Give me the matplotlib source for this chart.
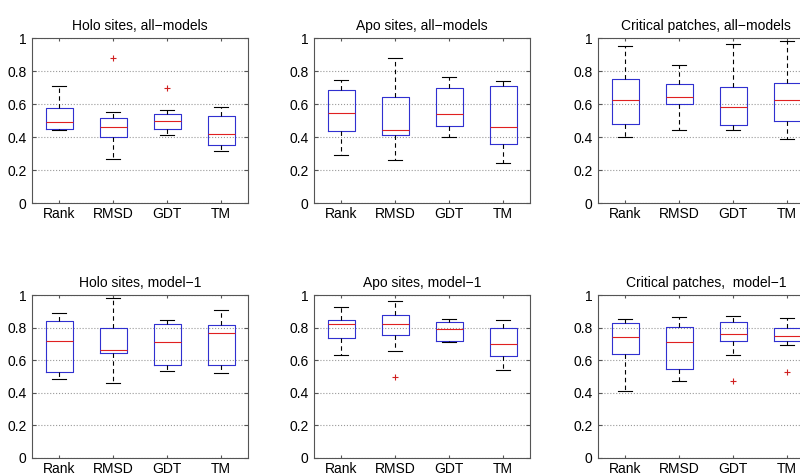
import matplotlib
matplotlib.use("Agg")
import matplotlib.pyplot as plt

plt.rcParams['font.family'] = ['Liberation Sans', 'DejaVu Sans']

labels = ["Rank", "RMSD", "GDT", "TM"]

titles = [
    "Holo sites, all\u2212models",
    "Apo sites, all\u2212models",
    "Critical patches, all\u2212models",
    "Holo sites, model\u22121",
    "Apo sites, model\u22121",
    "Critical patches,  model\u22121",
]

# per panel: whisker low, q1, median, q3, whisker high, outliers (one list per method)
holo_all_lo = [0.44, 0.27, 0.41, 0.315]
holo_all_q1 = [0.45, 0.40, 0.45, 0.355]
holo_all_med = [0.49, 0.46, 0.50, 0.42]
holo_all_q3 = [0.575, 0.515, 0.54, 0.53]
holo_all_hi = [0.71, 0.555, 0.565, 0.58]
holo_all_out = [[], [0.88], [0.70], []]

apo_all_lo = [0.29, 0.26, 0.40, 0.24]
apo_all_q1 = [0.435, 0.41, 0.47, 0.36]
apo_all_med = [0.545, 0.445, 0.54, 0.46]
apo_all_q3 = [0.685, 0.645, 0.70, 0.71]
apo_all_hi = [0.745, 0.88, 0.765, 0.74]
apo_all_out = [[], [], [], []]

crit_all_lo = [0.40, 0.44, 0.445, 0.39]
crit_all_q1 = [0.48, 0.60, 0.475, 0.50]
crit_all_med = [0.625, 0.645, 0.585, 0.625]
crit_all_q3 = [0.75, 0.72, 0.705, 0.73]
crit_all_hi = [0.955, 0.84, 0.965, 0.985]
crit_all_out = [[], [], [], []]

holo_m1_lo = [0.485, 0.46, 0.535, 0.52]
holo_m1_q1 = [0.53, 0.645, 0.57, 0.57]
holo_m1_med = [0.72, 0.66, 0.715, 0.77]
holo_m1_q3 = [0.84, 0.80, 0.825, 0.815]
holo_m1_hi = [0.89, 0.98, 0.85, 0.91]
holo_m1_out = [[], [], [], []]

apo_m1_lo = [0.63, 0.655, 0.715, 0.54]
apo_m1_q1 = [0.735, 0.755, 0.72, 0.625]
apo_m1_med = [0.825, 0.82, 0.79, 0.70]
apo_m1_q3 = [0.85, 0.88, 0.835, 0.80]
apo_m1_hi = [0.925, 0.965, 0.855, 0.845]
apo_m1_out = [[], [0.50], [], []]

crit_m1_lo = [0.41, 0.475, 0.635, 0.695]
crit_m1_q1 = [0.64, 0.545, 0.72, 0.72]
crit_m1_med = [0.74, 0.715, 0.76, 0.75]
crit_m1_q3 = [0.83, 0.805, 0.835, 0.80]
crit_m1_hi = [0.855, 0.865, 0.87, 0.86]
crit_m1_out = [[], [], [0.475], [0.53]]

panels = [
    (holo_all_lo, holo_all_q1, holo_all_med, holo_all_q3, holo_all_hi, holo_all_out),
    (apo_all_lo, apo_all_q1, apo_all_med, apo_all_q3, apo_all_hi, apo_all_out),
    (crit_all_lo, crit_all_q1, crit_all_med, crit_all_q3, crit_all_hi, crit_all_out),
    (holo_m1_lo, holo_m1_q1, holo_m1_med, holo_m1_q3, holo_m1_hi, holo_m1_out),
    (apo_m1_lo, apo_m1_q1, apo_m1_med, apo_m1_q3, apo_m1_hi, apo_m1_out),
    (crit_m1_lo, crit_m1_q1, crit_m1_med, crit_m1_q3, crit_m1_hi, crit_m1_out),
]

fig = plt.figure(figsize=(8, 4.75), dpi=100)

# right column runs past the figure edge, as in the original screenshot
lefts = [0.04, 0.3925, 0.7475]
bottoms = [0.5726, 0.0358]
heights = [0.347, 0.343]

for i, (lo, q1, med, q3, hi, out) in enumerate(panels):
    row, col = divmod(i, 3)
    ax = fig.add_axes([lefts[col], bottoms[row], 0.27, heights[row]])
    stats = []
    for k in range(len(labels)):
        stats.append(dict(label=labels[k], whislo=lo[k], q1=q1[k], med=med[k],
                          q3=q3[k], whishi=hi[k], fliers=out[k]))
    ax.bxp(stats, widths=0.5, showfliers=True,
           boxprops=dict(color='#3030d0', linewidth=0.8),
           medianprops=dict(color='#e02020', linewidth=0.8),
           whiskerprops=dict(color='black', linestyle=(0, (4, 3)), linewidth=0.8),
           capprops=dict(color='black', linewidth=0.8),
           flierprops=dict(marker='+', markeredgecolor='#d02020', markersize=5,
                           markeredgewidth=0.8, linestyle='none'))
    ax.set_xlim(0.5, 4.5)
    ax.set_ylim(0, 1)
    ax.set_yticks([0, 0.2, 0.4, 0.6, 0.8, 1])
    ax.set_yticklabels(["0", "0.2", "0.4", "0.6", "0.8", "1"])
    ax.yaxis.grid(True, linestyle=':', color='#999999', linewidth=0.8)
    ax.set_axisbelow(True)
    ax.tick_params(axis='y', direction='in', length=3, labelsize=10, pad=4,
                   right=True, color='#555555')
    ax.tick_params(axis='x', direction='in', length=2.5, labelsize=10, pad=3,
                   top=True, color='#555555')
    for s in ax.spines.values():
        s.set_color('#555555')
        s.set_linewidth(0.8)
    ax.set_title(titles[i], fontsize=10, pad=6)

plt.savefig("out.png", dpi=100)
